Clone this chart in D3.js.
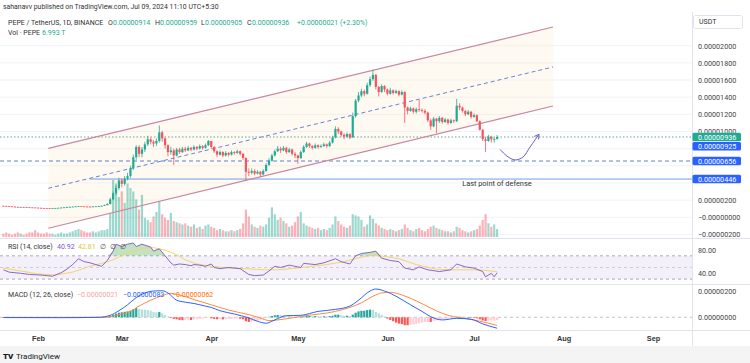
<!DOCTYPE html>
<html>
<head>
<meta charset="utf-8">
<script src="https://cdn.jsdelivr.net/npm/d3@7"></script>
<style>
body { margin: 0; background: #fff; }
svg { display: block; font-family: Roboto, "Noto Sans", sans-serif; }
</style>
</head>
<body>
<div id="chart"></div>
<script>
// daily candles from 2024-01-20, prices in units of 1e-6 USDT
var startDay = Date.UTC(2024, 0, 20);
var firstOpen = 1.34;
var closes = [
  1.32,1.30,1.27,1.24,1.22,1.20,1.21,1.19,1.17,1.15,
  1.14,1.12,1.10,1.08,1.07,1.06,1.05,1.06,1.08,1.10,
  1.13,1.16,1.20,1.22,1.24,1.27,1.29,1.27,1.25,1.24,
  1.23,1.26,1.28,1.30,1.33,1.42,1.55,2.10,2.80,3.40,
  4.30,3.90,4.50,4.80,5.70,7.00,8.20,7.40,7.90,8.50,
  9.10,8.80,8.60,8.90,9.90,9.20,8.40,7.60,7.80,7.20,
  7.90,7.60,8.00,7.80,8.10,7.90,8.20,8.00,8.30,8.10,
  8.40,8.90,8.20,7.70,7.30,7.60,7.20,7.50,7.30,7.60,
  7.50,7.70,7.40,6.90,5.30,5.20,5.40,5.10,5.30,5.00,
  5.40,6.10,6.60,7.20,7.70,8.00,7.80,8.10,7.60,7.90,
  7.40,7.20,6.90,7.60,8.20,8.60,8.30,8.10,8.40,8.20,
  8.30,8.50,8.30,8.70,9.30,10.30,10.00,9.60,9.40,9.70,
  9.30,11.80,13.60,14.20,14.70,14.40,15.40,16.10,16.60,15.20,
  14.60,15.30,14.90,14.40,14.80,14.50,14.70,14.30,14.60,12.80,
  12.40,12.70,12.30,12.60,12.50,12.40,12.20,11.30,10.60,11.50,
  11.20,11.60,11.10,11.40,11.00,11.30,11.20,13.00,12.80,12.40,
  12.00,12.30,11.70,11.90,11.20,10.20,9.10,8.90,9.40,9.10,
  9.14,9.36
];
var highs = [
  1.36,1.34,1.32,1.29,1.26,1.24,1.24,1.23,1.21,1.19,
  1.17,1.16,1.14,1.12,1.10,1.09,1.08,1.09,1.10,1.13,
  1.16,1.19,1.23,1.25,1.27,1.30,1.33,1.31,1.29,1.28,
  1.27,1.29,1.31,1.34,1.37,1.48,1.65,2.30,3.00,3.70,
  4.60,4.50,4.80,5.20,6.00,7.30,8.40,8.40,8.20,8.80,
  9.50,9.30,9.00,9.20,10.70,10.10,9.30,8.50,8.20,8.00,
  8.10,8.10,8.20,8.20,8.30,8.20,8.40,8.30,8.50,8.40,
  8.60,9.00,8.90,8.30,7.80,7.80,7.70,7.70,7.60,7.80,
  7.70,7.90,7.80,7.50,7.00,5.70,5.70,5.60,5.50,5.40,
  5.60,6.30,6.90,7.40,7.90,8.30,8.20,8.30,8.20,8.10,
  8.00,7.60,7.30,7.80,8.40,8.80,8.70,8.40,8.60,8.50,
  8.50,8.70,8.60,8.90,9.50,10.60,10.50,10.10,9.80,9.90,
  9.80,12.20,13.80,14.60,15.00,14.90,15.70,16.40,17.20,16.70,
  15.30,15.50,15.40,15.00,15.10,14.90,14.90,14.80,14.80,14.70,
  12.90,12.90,12.80,12.80,13.70,12.70,12.60,12.30,11.50,11.70,
  11.60,11.80,11.70,11.60,11.50,11.50,11.40,13.80,13.30,12.90,
  12.50,12.50,12.40,12.10,12.00,11.30,10.30,9.40,9.60,9.50,
  9.30,9.59
];
var lows = [
  1.29,1.28,1.25,1.22,1.19,1.17,1.18,1.17,1.15,1.13,
  1.11,1.10,1.08,1.06,1.05,1.04,1.03,1.04,1.05,1.07,
  1.09,1.12,1.15,1.18,1.20,1.22,1.25,1.24,1.23,1.21,
  1.20,1.21,1.25,1.27,1.29,1.31,1.40,1.50,2.00,2.60,
  3.20,3.50,3.70,4.30,4.60,5.50,6.70,7.00,7.00,7.60,
  8.30,8.50,8.20,8.30,8.70,8.80,8.00,7.10,7.30,6.10,
  7.10,7.40,7.50,7.60,7.70,7.70,7.80,7.80,7.90,7.90,
  8.00,8.30,8.00,7.50,7.00,7.20,7.00,7.10,7.10,7.20,
  7.30,7.40,7.20,6.70,4.30,4.80,5.00,4.90,5.00,4.70,
  4.90,5.30,6.00,6.50,7.10,7.60,7.50,7.70,7.40,7.50,
  7.20,6.90,6.20,6.80,7.50,8.10,8.10,7.90,8.00,8.00,
  8.10,8.20,8.10,8.20,8.60,9.20,9.70,9.40,9.10,9.30,
  9.10,9.30,11.60,13.40,14.00,14.10,14.30,15.20,15.90,14.90,
  14.10,14.50,14.60,14.20,14.30,14.30,14.40,14.10,14.20,11.00,
  12.00,12.30,12.10,12.10,12.30,12.20,12.00,11.10,10.20,10.50,
  9.80,11.00,10.90,11.00,10.80,10.90,11.00,11.10,12.50,12.20,
  11.80,11.90,11.50,11.60,11.10,10.10,8.90,7.60,8.80,8.70,
  8.70,9.05
];
// volume in trillions of PEPE
var volumes = [
  3,4,3,2,3,4,3,2,3,4,
  4,6,4,3,3,4,3,3,2,3,
  4,3,3,4,5,6,7,6,5,4,
  4,5,4,5,6,6,7,21,50,47,
  35,40,30,47,43,40,33,24,37,17,
  15,13,18,22,31,20,17,15,21,14,
  13,12,11,12,10,9,11,8,9,7,
  10,11,9,8,6,7,6,5,5,6,
  5,6,7,12,24,18,11,9,8,10,
  9,11,17,26,20,15,17,14,12,9,
  10,13,18,22,12,10,9,8,7,8,
  6,7,6,8,11,18,14,11,9,8,
  10,20,19,18,15,9,11,19,16,12,
  10,8,7,6,7,6,5,6,7,11,
  8,6,5,7,8,6,5,7,9,10,
  8,7,6,5,5,4,5,9,8,6,
  5,4,5,6,7,10,15,20,12,9,
  11,7
];
// MACD histogram, 1e-6 units
var macdHist = [
  -0.02,-0.02,-0.02,-0.02,-0.02,-0.02,-0.02,-0.02,-0.02,-0.02,
  -0.02,-0.01,-0.01,-0.01,-0.01,-0.01,-0.01,0.0,0.01,0.01,
  0.01,0.02,0.02,0.02,0.02,0.02,0.02,0.02,0.01,0.01,
  0.01,0.01,0.01,0.01,0.02,0.03,0.05,0.12,0.2,0.28,
  0.35,0.38,0.42,0.45,0.5,0.6,0.7,0.62,0.6,0.58,
  0.55,0.5,0.42,0.38,0.4,0.3,0.18,0.06,-0.05,-0.12,
  -0.15,-0.2,-0.22,-0.2,-0.18,-0.2,-0.16,-0.15,-0.12,-0.1,
  -0.05,-0.03,-0.08,-0.12,-0.15,-0.14,-0.16,-0.15,-0.14,-0.12,
  -0.11,-0.1,-0.11,-0.15,-0.3,-0.35,-0.33,-0.3,-0.26,-0.22,
  -0.15,-0.05,0.04,0.1,0.15,0.18,0.17,0.16,0.12,0.1,
  0.06,0.03,0.0,0.03,0.07,0.1,0.1,0.08,0.09,0.08,
  0.07,0.08,0.07,0.09,0.12,0.2,0.2,0.15,0.12,0.12,
  0.08,0.2,0.35,0.45,0.5,0.5,0.55,0.58,0.56,0.4,
  0.3,0.18,0.06,-0.1,-0.2,-0.3,-0.4,-0.48,-0.52,-0.6,
  -0.6,-0.58,-0.55,-0.5,-0.45,-0.4,-0.36,-0.35,-0.35,-0.28,
  -0.24,-0.2,-0.15,-0.12,-0.1,-0.08,-0.05,0.02,0.05,0.04,
  0.02,0.02,-0.02,-0.04,-0.08,-0.15,-0.24,-0.28,-0.26,-0.25,
  -0.24,-0.21
];
// [day index, value]
var rsiPoints = [[0,46],[2,42],[6,40],[9,38],[13,37],[15,36],[17,35],[20,41],[22,47],[24,55],[26,65],[28,60],[30,58],[32,55],[34,52],[36,62],[38,78],[39,90],[41,86],[43,90],[45,92],[46,86],[48,90],[51,85],[52,78],[54,82],[56,70],[58,58],[59,54],[61,56],[63,55],[65,53],[66,55],[68,54],[70,52],[72,56],[73,50],[75,48],[78,50],[82,48],[85,38],[87,36],[90,37],[92,44],[94,52],[96,50],[99,54],[103,50],[104,57],[108,55],[111,58],[115,65],[117,60],[120,56],[122,70],[124,74],[127,76],[129,78],[131,66],[134,62],[137,60],[139,49],[142,46],[144,51],[147,46],[151,43],[155,46],[157,56],[160,51],[163,49],[166,43],[167,34],[169,40],[170,34],[171,40.92]];
var rsiMaPoints = [[0,49],[6,44],[12,39],[18,37],[24,42],[30,52],[34,57],[38,63],[43,75],[48,82],[52,84],[56,80],[60,72],[63,63],[67,56],[72,52],[78,49],[84,48],[90,46],[95,46],[100,48],[105,51],[112,55],[118,60],[124,68],[128,71],[132,69],[137,65],[143,55],[150,47],[156,46],[162,46],[167,45],[171,42.81]];
var macdPoints = [[0,-0.02],[20,-0.03],[33,0],[37,0.15],[40,0.5],[43,0.95],[46,1.5],[49,1.85],[52,2.0],[55,2.02],[57,1.85],[60,1.3],[63,1.15],[66,1.05],[70,0.85],[72,0.75],[75,0.5],[80,0.25],[85,-0.05],[88,-0.3],[91,-0.45],[93,-0.3],[95,-0.1],[98,0.12],[103,0.15],[109,0.45],[115,0.6],[120,0.85],[123,1.3],[127,2.0],[129,2.15],[132,2.0],[136,1.6],[141,0.95],[145,0.45],[148,0.05],[152,-0.2],[157,-0.08],[162,-0.15],[166,-0.5],[171,-0.83]];
var signalPoints = [[0,-0.01],[35,0],[40,0.2],[44,0.45],[47,0.85],[51,1.3],[55,1.65],[58,1.82],[61,1.7],[66,1.35],[72,0.95],[78,0.55],[85,0.2],[89,-0.05],[92,-0.25],[95,-0.2],[99,-0.08],[104,0.1],[115,0.45],[120,0.75],[124,1.1],[128,1.6],[131,1.85],[134,1.9],[138,1.7],[143,1.25],[148,0.7],[152,0.3],[156,0.05],[160,-0.08],[165,-0.3],[168,-0.45],[171,-0.62]];

var priceTicks = [-2,0,2,4,6,8,10,12,14,16,18,20];
var rsiTicks = [80,40];
var macdTicks = [2,0];
var monthTicks = ["2024-02-01","2024-03-01","2024-04-01","2024-05-01","2024-06-01","2024-07-01","2024-08-01","2024-09-01"];

// drawings, [day index, price]
var channelUpper = [[15.55,8.04],[190.4,22.18]];
var channelMid = [[15.55,3.38],[190.4,17.52]];
var channelLower = [[15.55,-1.28],[190.4,12.97]];
var arrowPath = [[172,7.92],[174.4,7.14],[177.2,6.68],[180,7.03],[182.4,8.19],[185.5,9.67]];
var lastPrice = 9.36;
var dashedLevel = 6.56;
var solidLevel = 4.46, solidFrom = 30;
var noteText = "Last point of defense", notePos = [158.9, 3.96];
var priceBoxes = [
  {v: 9.36, text: "0.00000936", color: "#22ab94", stack: 0},
  {v: 9.36, text: "0.00000925", color: "#2962ff", stack: 1},
  {v: 6.56, text: "0.00000656", color: "#2962ff", stack: 0},
  {v: 4.46, text: "0.00000446", color: "#2962ff", stack: 0}
];

var W = 750, H = 363, axisX = 692;
var upCol = "#22ab94", downCol = "#f7525f";

var svg = d3.select("#chart").append("svg").attr("width", W).attr("height", H);
svg.append("rect").attr("width", W).attr("height", H).attr("fill", "#fff");

function dayDate(d) { return new Date(startDay + d * 864e5); }
var x = d3.scaleUtc().domain([dayDate(0), new Date(Date.UTC(2024, 8, 1))]).range([3.4, 653]);
function xd(d) { return x(dayDate(d)); }
var yP = d3.scaleLinear().domain([0, 20]).range([217.3, 45.7]);
var yV = d3.scaleLinear().domain([0, 50]).range([237, 180]);
var yR = d3.scaleLinear().domain([40, 80]).range([273.3, 250]);
var yM = d3.scaleLinear().domain([0, 2]).range([317.3, 291]);

var candles = closes.map(function(c, i) {
  return {d: i, o: i ? closes[i - 1] : firstOpen, h: highs[i], l: lows[i], c: c, v: volumes[i]};
});

// clips
var defs = svg.append("defs");
defs.append("clipPath").attr("id", "mainClip").append("rect").attr("x", 0).attr("y", 12).attr("width", axisX).attr("height", 226);
defs.append("clipPath").attr("id", "obClip").append("rect").attr("x", 0).attr("y", 238).attr("width", axisX).attr("height", yR(70) - 238);
defs.append("marker").attr("id", "arrowHead").attr("viewBox", "0 0 8 8").attr("refX", 6).attr("refY", 4)
  .attr("markerWidth", 7).attr("markerHeight", 7).attr("orient", "auto")
  .append("path").attr("d", "M1,1 L6,4 L1,7").attr("fill", "none").attr("stroke", "#6a5acd").attr("stroke-width", 1);

// grid
svg.append("g").selectAll("line").data(priceTicks).enter().append("line")
  .attr("x1", 0).attr("x2", axisX).attr("y1", function(d) { return yP(d); }).attr("y2", function(d) { return yP(d); })
  .attr("stroke", "#f0f3fa").attr("stroke-width", 1);

var main = svg.append("g").attr("clip-path", "url(#mainClip)");

// channel fill
var chPoly = [channelUpper[0], channelUpper[1], channelLower[1], channelLower[0]];
main.append("path")
  .attr("d", d3.line().x(function(p) { return xd(p[0]); }).y(function(p) { return yP(p[1]); })(chPoly) + "Z")
  .attr("fill", "rgba(255,222,170,0.16)");

// volume
main.append("g").selectAll("rect").data(candles).enter().append("rect")
  .attr("x", function(d) { return xd(d.d) - 1.1; })
  .attr("width", 2.2)
  .attr("y", function(d) { return yV(d.v); })
  .attr("height", function(d) { return yV(0) - yV(d.v); })
  .attr("fill", function(d) { return d.c >= d.o ? "rgba(34,171,148,0.45)" : "rgba(247,82,95,0.45)"; });

// levels
main.append("line").attr("x1", 0).attr("x2", axisX).attr("y1", yP(lastPrice)).attr("y2", yP(lastPrice))
  .attr("stroke", "#5aa9a0").attr("stroke-width", 1).attr("stroke-dasharray", "1.5,2");
main.append("line").attr("x1", 0).attr("x2", axisX).attr("y1", yP(dashedLevel)).attr("y2", yP(dashedLevel))
  .attr("stroke", "#5b7fd6").attr("stroke-width", 1).attr("stroke-dasharray", "4,3");
main.append("line").attr("x1", xd(solidFrom)).attr("x2", axisX).attr("y1", yP(solidLevel)).attr("y2", yP(solidLevel))
  .attr("stroke", "#6f9de6").attr("stroke-width", 1);

// channel lines
var pLine = d3.line().x(function(p) { return xd(p[0]); }).y(function(p) { return yP(p[1]); });
main.append("path").attr("d", pLine(channelUpper)).attr("stroke", "#c9869f").attr("stroke-width", 1.2).attr("fill", "none");
main.append("path").attr("d", pLine(channelLower)).attr("stroke", "#c9869f").attr("stroke-width", 1.2).attr("fill", "none");
main.append("path").attr("d", pLine(channelMid)).attr("stroke", "#6b82d6").attr("stroke-width", 1).attr("stroke-dasharray", "4,3").attr("fill", "none");

// candles
var cg = main.append("g");
cg.selectAll("line").data(candles).enter().append("line")
  .attr("x1", function(d) { return xd(d.d); }).attr("x2", function(d) { return xd(d.d); })
  .attr("y1", function(d) { return yP(d.h); }).attr("y2", function(d) { return yP(d.l); })
  .attr("stroke", function(d) { return d.c >= d.o ? upCol : downCol; }).attr("stroke-width", 0.8);
cg.selectAll("rect").data(candles).enter().append("rect")
  .attr("x", function(d) { return xd(d.d) - 1.1; })
  .attr("width", 2.2)
  .attr("y", function(d) { return yP(Math.max(d.o, d.c)); })
  .attr("height", function(d) { return Math.max(0.8, Math.abs(yP(d.o) - yP(d.c))); })
  .attr("fill", function(d) { return d.c >= d.o ? upCol : downCol; });

// arrow
main.append("path").attr("d", d3.line().curve(d3.curveCatmullRom).x(function(p) { return xd(p[0]); }).y(function(p) { return yP(p[1]); })(arrowPath))
  .attr("fill", "none").attr("stroke", "#6a5acd").attr("stroke-width", 1).attr("marker-end", "url(#arrowHead)");

main.append("text").attr("x", xd(notePos[0])).attr("y", yP(notePos[1])).attr("dy", "0.35em")
  .attr("font-size", 7.4).attr("fill", "#333").text(noteText);

// RSI pane
svg.append("rect").attr("x", 0).attr("width", axisX).attr("y", yR(70)).attr("height", yR(30) - yR(70)).attr("fill", "rgba(126,87,194,0.09)");
svg.append("g").selectAll("line").data([70, 50, 30]).enter().append("line")
  .attr("x1", 0).attr("x2", axisX).attr("y1", function(d) { return yR(d); }).attr("y2", function(d) { return yR(d); })
  .attr("stroke", function(d) { return d === 50 ? "#c3c5cc" : "#9598a1"; }).attr("stroke-width", 0.8).attr("stroke-dasharray", "3,3");
var rx = function(p) { return xd(p[0]); };
svg.append("path").attr("clip-path", "url(#obClip)")
  .attr("d", d3.area().x(rx).y0(yR(70)).y1(function(p) { return yR(Math.max(70, p[1])); })(rsiPoints))
  .attr("fill", "rgba(76,175,80,0.35)");
svg.append("path").attr("d", d3.line().x(rx).y(function(p) { return yR(p[1]); })(rsiMaPoints))
  .attr("fill", "none").attr("stroke", "#f1d66b").attr("stroke-width", 1);
svg.append("path").attr("d", d3.line().x(rx).y(function(p) { return yR(p[1]); })(rsiPoints))
  .attr("fill", "none").attr("stroke", "#7e57c2").attr("stroke-width", 0.9);

// MACD pane
svg.append("line").attr("x1", 0).attr("x2", axisX).attr("y1", yM(0)).attr("y2", yM(0))
  .attr("stroke", "#b2b5be").attr("stroke-width", 0.8).attr("stroke-dasharray", "3,3");
svg.append("g").selectAll("rect").data(macdHist).enter().append("rect")
  .attr("x", function(v, i) { return xd(i) - 1.1; })
  .attr("width", 2.2)
  .attr("y", function(v) { return yM(Math.max(0, v)); })
  .attr("height", function(v) { return Math.max(0.5, Math.abs(yM(v) - yM(0))); })
  .attr("fill", function(v, i) {
    var prev = i ? macdHist[i - 1] : v;
    if (v >= 0) return v >= prev ? "#26a69a" : "#b2dfdb";
    return v <= prev ? "#ff5252" : "#ffcdd2";
  });
svg.append("path").attr("d", d3.line().curve(d3.curveMonotoneX).x(rx).y(function(p) { return yM(p[1]); })(signalPoints))
  .attr("fill", "none").attr("stroke", "#ff8a3d").attr("stroke-width", 1);
svg.append("path").attr("d", d3.line().curve(d3.curveMonotoneX).x(rx).y(function(p) { return yM(p[1]); })(macdPoints))
  .attr("fill", "none").attr("stroke", "#2962ff").attr("stroke-width", 1);

// separators
svg.append("g").selectAll("line").data([238.5, 284.5, 330.5]).enter().append("line")
  .attr("x1", 0).attr("x2", W).attr("y1", function(d) { return d; }).attr("y2", function(d) { return d; })
  .attr("stroke", "#e0e3eb").attr("stroke-width", 1);
svg.append("line").attr("x1", axisX + 0.5).attr("x2", axisX + 0.5).attr("y1", 12).attr("y2", 346)
  .attr("stroke", "#e0e3eb").attr("stroke-width", 1);

// right axes; labels sitting under a price box are hidden, as on the reference
function boxY(b) { return yP(b.v) + b.stack * 9.2; }
var shownPriceTicks = priceTicks.filter(function(t) {
  return priceBoxes.every(function(b) { return Math.abs(yP(t) - boxY(b)) > 5.2; });
});
function fmtMicro(v) { return (v <= 0 ? "\u2212" : "") + d3.format(".8f")(Math.abs(v) * 1e-6); }
function styleAxis(g) {
  g.select(".domain").remove();
  g.selectAll("text").attr("font-size", 7.2).attr("fill", "#444").attr("font-family", "Roboto, 'Noto Sans', sans-serif");
}
svg.append("g").attr("transform", "translate(" + axisX + ",0)")
  .call(d3.axisRight(yP).tickValues(shownPriceTicks).tickFormat(fmtMicro).tickSize(0).tickPadding(6)).call(styleAxis);
svg.append("g").attr("transform", "translate(" + axisX + ",0)")
  .call(d3.axisRight(yR).tickValues(rsiTicks).tickFormat(d3.format(".2f")).tickSize(0).tickPadding(6)).call(styleAxis);
svg.append("g").attr("transform", "translate(" + axisX + ",0)")
  .call(d3.axisRight(yM).tickValues(macdTicks).tickFormat(function(v) { return d3.format(".8f")(v * 1e-6); }).tickSize(0).tickPadding(6)).call(styleAxis);

// price boxes
var pb = svg.append("g").selectAll("g").data(priceBoxes).enter().append("g")
  .attr("transform", function(d) { return "translate(" + axisX + "," + boxY(d) + ")"; });
pb.append("rect").attr("x", 0.5).attr("y", -4.3).attr("width", 48.5).attr("height", 8.6).attr("rx", 1.5)
  .attr("fill", function(d) { return d.color; });
pb.append("text").attr("x", 6).attr("dy", "0.35em").attr("font-size", 7.2).attr("fill", "#fff").text(function(d) { return d.text; });

// USDT box
svg.append("rect").attr("x", 693.5).attr("y", 15.5).attr("width", 49).attr("height", 13).attr("rx", 2)
  .attr("fill", "#fff").attr("stroke", "#e0e3eb");
svg.append("text").attr("x", 699).attr("y", 22).attr("dy", "0.35em").attr("font-size", 7).attr("fill", "#333").text("USDT");

// time axis
var tg = svg.append("g").attr("transform", "translate(0,333)")
  .call(d3.axisBottom(x).tickValues(monthTicks.map(function(s) { return new Date(s + "T00:00:00Z"); }))
    .tickFormat(d3.utcFormat("%b")).tickSize(0).tickPadding(3));
tg.select(".domain").remove();
tg.selectAll("text").attr("font-size", 7.3).attr("font-weight", 600).attr("fill", "#333");

// header
svg.append("text").attr("x", 3).attr("y", 7).attr("dy", "0.35em").attr("font-size", 6.9).attr("fill", "#333")
  .text("sahanavv published on TradingView.com, Jul 09, 2024 11:10 UTC+5:30");
var hdr = [
  {x: 8, t: "PEPE / TetherUS, 1D, BINANCE", c: "#333"},
  {x: 108, t: "O", c: "#333"}, {x: 113, t: "0.00000914", c: "#22ab94"},
  {x: 155, t: "H", c: "#333"}, {x: 160, t: "0.00000959", c: "#22ab94"},
  {x: 201, t: "L", c: "#333"}, {x: 205, t: "0.00000905", c: "#22ab94"},
  {x: 247, t: "C", c: "#333"}, {x: 252, t: "0.00000936", c: "#22ab94"},
  {x: 297, t: "+0.00000021 (+2.30%)", c: "#22ab94"}
];
svg.append("g").selectAll("text").data(hdr).enter().append("text")
  .attr("x", function(d) { return d.x; }).attr("y", 22.7).attr("dy", "0.35em")
  .attr("font-size", 7).attr("fill", function(d) { return d.c; }).text(function(d) { return d.t; });
svg.append("text").attr("x", 8).attr("y", 32.7).attr("dy", "0.35em").attr("font-size", 7).attr("fill", "#333").text("Vol \u00b7 PEPE");
svg.append("text").attr("x", 42).attr("y", 32.7).attr("dy", "0.35em").attr("font-size", 7).attr("fill", "#22ab94").text("6.993 T");

// pane legends
var rsiLeg = [
  {x: 8, t: "RSI (14, close)", c: "#333"}, {x: 57, t: "40.92", c: "#7e57c2"}, {x: 78, t: "42.81", c: "#e6c23a"},
  {x: 100, t: "\u2205", c: "#555"}, {x: 110, t: "\u2205", c: "#555"}, {x: 120, t: "\u2205", c: "#555"}
];
svg.append("g").selectAll("text").data(rsiLeg).enter().append("text")
  .attr("x", function(d) { return d.x; }).attr("y", 246.7).attr("dy", "0.35em")
  .attr("font-size", 7).attr("fill", function(d) { return d.c; }).text(function(d) { return d.t; });
var macdLeg = [
  {x: 8, t: "MACD (12, 26, close)", c: "#333"}, {x: 77, t: "\u22120.00000021", c: "#f4a3a8"},
  {x: 123, t: "\u22120.00000083", c: "#2962ff"}, {x: 172, t: "\u22120.00000062", c: "#ff6d00"}
];
svg.append("g").selectAll("text").data(macdLeg).enter().append("text")
  .attr("x", function(d) { return d.x; }).attr("y", 294.3).attr("dy", "0.35em")
  .attr("font-size", 7).attr("fill", function(d) { return d.c; }).text(function(d) { return d.t; });

// footer
svg.append("rect").attr("x", 0).attr("y", 346).attr("width", W).attr("height", 17).attr("fill", "#f4f4f5");
svg.append("text").attr("x", 3).attr("y", 356.5).attr("dy", "0.35em").attr("font-size", 8).attr("font-weight", 900).attr("fill", "#131722").text("TV");
svg.append("text").attr("x", 16).attr("y", 356.5).attr("dy", "0.35em").attr("font-size", 8).attr("fill", "#131722").text("TradingView");
</script>
</body>
</html>
